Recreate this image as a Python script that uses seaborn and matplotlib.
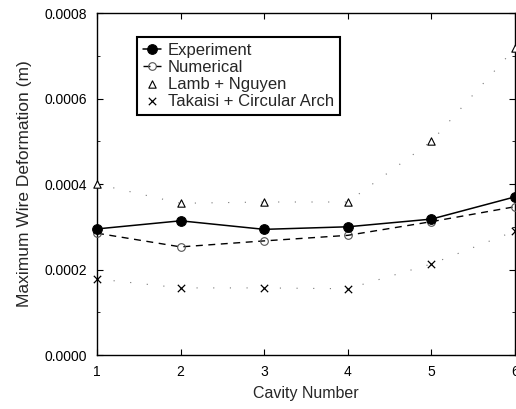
import matplotlib
matplotlib.use("Agg")
import matplotlib.pyplot as plt
import seaborn as sns
import pandas as pd
from matplotlib.ticker import MultipleLocator

cavity = [1, 2, 3, 4, 5, 6]
experiment = [0.000295, 0.000314, 0.000294, 0.000300, 0.000318, 0.000370]
numerical = [0.000285, 0.000253, 0.000267, 0.000280, 0.000312, 0.000347]
lamb_nguyen = [0.000400, 0.000355, 0.000358, 0.000358, 0.000500, 0.000718]
takaisi = [0.000178, 0.000157, 0.000157, 0.000155, 0.000213, 0.000290]

sns.set_theme(style="ticks")
plt.rcParams['font.family'] = ['Liberation Sans', 'DejaVu Sans']

fig = plt.figure(figsize=(5.16, 4.09), dpi=100)
ax = fig.add_axes([0.188, 0.132, 0.810, 0.836])

df = pd.DataFrame({"x": cavity, "exp": experiment, "num": numerical,
                   "lamb": lamb_nguyen, "tak": takaisi})

sns.lineplot(data=df, x="x", y="exp", ax=ax, color="black", lw=1.1,
             marker="o", markersize=7, markerfacecolor="black",
             markeredgecolor="black", label="Experiment", clip_on=False,
             zorder=4)
sns.lineplot(data=df, x="x", y="num", ax=ax, color="black", lw=1.0,
             linestyle=(0, (5, 4)), marker="o", markersize=5.5,
             markerfacecolor="none", markeredgecolor="#555555",
             markeredgewidth=0.8, label="Numerical", clip_on=False,
             zorder=3)
sns.lineplot(data=df, x="x", y="lamb", ax=ax, color="#777777", lw=0.8,
             linestyle=(0, (1, 14)), legend=False, clip_on=False)
sns.scatterplot(data=df, x="x", y="lamb", ax=ax, marker="^", s=28,
                facecolor="white", edgecolor="black", linewidth=0.8,
                label="Lamb + Nguyen", clip_on=False, zorder=5)
sns.lineplot(data=df, x="x", y="tak", ax=ax, color="#777777", lw=0.8,
             linestyle=(0, (1, 14)), legend=False, clip_on=False)
sns.scatterplot(data=df, x="x", y="tak", ax=ax, marker="x", s=28,
                color="black", linewidth=0.9,
                label="Takaisi + Circular Arch", clip_on=False, zorder=5)

ax.set_xlim(1, 6)
ax.set_ylim(0, 0.0008)
ax.set_xticks(cavity)
ax.set_yticks([0.0, 0.0002, 0.0004, 0.0006, 0.0008])
ax.set_yticklabels(["0.0000", "0.0002", "0.0004", "0.0006", "0.0008"])
ax.yaxis.set_minor_locator(MultipleLocator(0.0001))
ax.tick_params(axis="both", which="major", direction="in", length=4,
               width=0.8, labelsize=10, colors="black", top=True, right=True)
ax.tick_params(axis="y", which="major", pad=7)
ax.tick_params(axis="x", which="major", pad=7)
ax.tick_params(axis="y", which="minor", direction="in", length=2.5,
               width=0.7, right=True)
for s in ax.spines.values():
    s.set_linewidth(1.0)
    s.set_color("black")

ax.set_xlabel("Cavity Number", fontsize=11.5, labelpad=5)
ax.set_ylabel("Maximum Wire Deformation (m)", fontsize=12.5, labelpad=9)

leg = ax.legend(loc="upper left", bbox_to_anchor=(0.095, 0.93),
                frameon=True, fancybox=False, fontsize=12,
                handlelength=1.1, handletextpad=0.4, borderpad=0.35,
                labelspacing=0.12, borderaxespad=0)
leg.get_frame().set_edgecolor("black")
leg.get_frame().set_linewidth(1.5)
leg.get_frame().set_alpha(1)

fig.savefig("out.png", dpi=100)
